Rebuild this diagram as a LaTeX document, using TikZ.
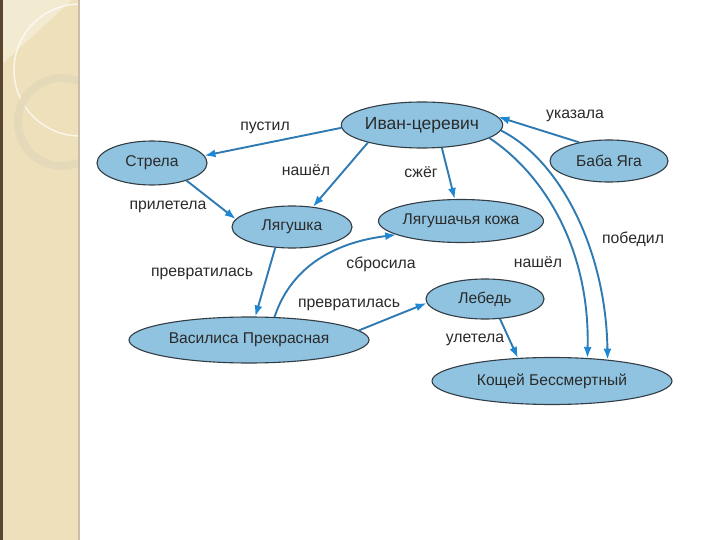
\documentclass[tikz,border=0pt]{standalone}
\usepackage{fontspec}
\setmainfont{Liberation Sans}
\usetikzlibrary{shapes.geometric,arrows.meta}
\definecolor{strip}{HTML}{EEE0BA}
\definecolor{stripdark}{HTML}{5A4630}
\definecolor{nodefill}{HTML}{8FC3E0}
\definecolor{nodeline}{HTML}{333D45}
\definecolor{edgecol}{HTML}{2F7AB2}
\definecolor{tipcol}{HTML}{1E88D4}
\definecolor{txt}{HTML}{2A2A2A}
\tikzset{
  ent/.style={ellipse, draw=nodeline, line width=1.1pt, fill=nodefill, inner sep=0pt,
    text=txt, font=\fontsize{15.6}{18}\selectfont},
  rel/.style={draw=edgecol, line width=1.9pt,
    -{Latex[length=11pt,width=8pt,fill=tipcol,color=tipcol]}},
  lbl/.style={text=txt, font=\fontsize{15.8}{18}\selectfont, inner sep=0pt}
}
\begin{document}
\begin{tikzpicture}[x=1pt,y=-1pt]
\useasboundingbox (0,0) rectangle (720,540);
\fill[white] (0,0) rectangle (720,540);
% decorative strip
\begin{scope}
\clip (0,0) rectangle (79,540);
\fill[strip] (0,0) rectangle (79,540);
\fill[white,opacity=0.35] (0,0) -- (72,0) -- (0,66) -- cycle;
\draw[white,opacity=0.7,line width=1.5pt] (80,70) circle[radius=66];
\draw[color={rgb,255:red,226;green,216;blue,184},line width=8pt,opacity=0.8] (62,122) circle[radius=44];
\end{scope}
\fill[stripdark] (0,0) rectangle (2.5,540);
\draw[color={rgb,255:red,200;green,190;blue,170},line width=1.2pt] (79,0) -- (79,540);
% nodes
\node[ent, minimum width=156pt, minimum height=46pt, font=\fontsize{17.5}{20}\selectfont] (ivan) at (422,125) {Иван-церевич};
\node[ent, minimum width=110pt, minimum height=44pt] (strela) at (152,163) {Стрела};
\node[ent, minimum width=118pt, minimum height=42pt] (baba) at (609,161) {Баба Яга};
\node[ent, minimum width=120pt, minimum height=42pt] (frog) at (292,227) {Лягушка};
\node[ent, minimum width=156pt, minimum height=43pt] (skin) at (461,221) {Лягушачья кожа};
\node[ent, minimum width=118pt, minimum height=40pt] (swan) at (485,299) {Лебедь};
\node[ent, minimum width=240pt, minimum height=46pt] (vas) at (249,340) {Василиса Прекрасная};
\node[ent, minimum width=240pt, minimum height=47pt] (kosh) at (552,381) {Кощей Бессмертный};
% connectors
\draw[rel] (ivan.182) -- (strela.8);
\draw[rel] (ivan.198) -- (frog.44);
\draw[rel] (strela.-27) -- (frog.172);
\draw[rel] (ivan.311) -- (skin.106);
\draw[rel] (baba.148) -- (ivan.6);
\draw[rel] (ivan.-4) .. controls (560,160) and (606,250) .. (kosh.21);
\draw[rel] (ivan.-11) .. controls (545,175) and (590,250) .. (kosh.33);
\draw[rel] (frog.231) -- (vas.75);
\draw[rel] (vas.42) .. controls (290,270) and (330,243) .. (skin.192);
\draw[rel] (vas.5) -- (swan.184);
\draw[rel] (swan.-53) -- (kosh.146);
% labels
\node[lbl] (l1) at (265,128) {пустил};
\node[lbl] (l2) at (306,170) {нашёл};
\node[lbl] (l3) at (168,207) {прилетела};
\node[lbl] (l4) at (421,172) {сжёг};
\node[lbl] (l5) at (575,116) {указала};
\node[lbl] (l6) at (633,239) {победил};
\node[lbl] (l7) at (538,262) {нашёл};
\node[lbl] (l8) at (202,274) {превратилась};
\node[lbl] (l9) at (381,264) {сбросила};
\node[lbl] (l10) at (349,305) {превратилась};
\node[lbl] (l11) at (475,340) {улетела};
\end{tikzpicture}
\end{document}
